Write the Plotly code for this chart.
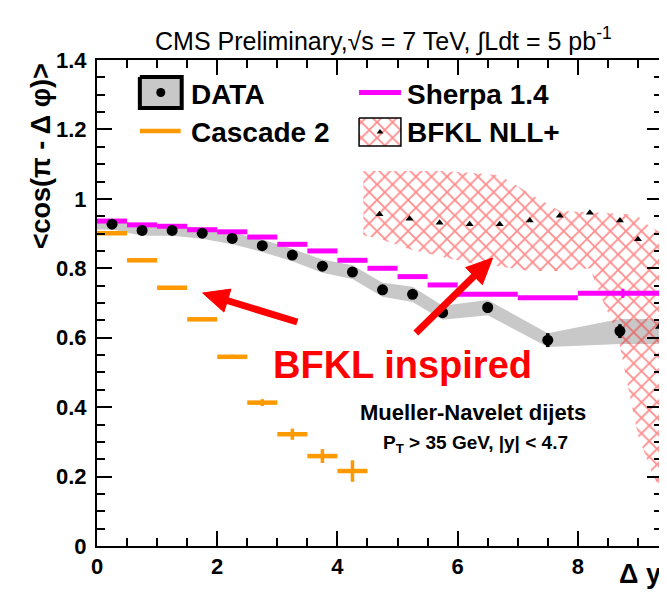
import math
import plotly.graph_objects as go

# ---------------- data ----------------
data_x = [0.25, 0.75, 1.25, 1.75, 2.25, 2.75, 3.25, 3.75, 4.25, 4.75, 5.25, 5.75, 6.5, 7.5, 8.7]
data_y = [0.927, 0.909, 0.909, 0.901, 0.886, 0.865, 0.838, 0.806, 0.789, 0.738, 0.725, 0.672, 0.687, 0.593, 0.619]
data_stat = [0.003, 0.003, 0.003, 0.003, 0.003, 0.003, 0.004, 0.004, 0.005, 0.005, 0.006, 0.008, 0.015, 0.02, 0.02]

syst_x = [0.0, 0.25, 0.75, 1.25, 1.75, 2.25, 2.75, 3.25, 3.75, 4.25, 4.75, 5.25, 5.75, 6.5, 7.5, 8.7, 9.4]
syst_hi = [0.942, 0.942, 0.924, 0.924, 0.917, 0.903, 0.883, 0.856, 0.825, 0.809, 0.758, 0.747, 0.692, 0.709, 0.613, 0.654, 0.654]
syst_lo = [0.912, 0.912, 0.894, 0.894, 0.885, 0.869, 0.847, 0.820, 0.787, 0.769, 0.718, 0.703, 0.652, 0.665, 0.573, 0.582, 0.582]

sherpa_lo = [0.0, 0.5, 1.0, 1.5, 2.0, 2.5, 3.0, 3.5, 4.0, 4.5, 5.0, 5.5, 6.0, 7.0, 8.0]
sherpa_hi = [0.5, 1.0, 1.5, 2.0, 2.5, 3.0, 3.5, 4.0, 4.5, 5.0, 5.5, 6.0, 7.0, 8.0, 9.5]
sherpa_y = [0.936, 0.925, 0.921, 0.911, 0.905, 0.890, 0.869, 0.850, 0.823, 0.800, 0.776, 0.752, 0.725, 0.715, 0.728]
sherpa_err = [0, 0, 0, 0, 0, 0, 0, 0, 0, 0, 0, 0, 0, 0, 0.013]

cascade_lo = [0.0, 0.5, 1.0, 1.5, 2.0, 2.5, 3.0, 3.5, 4.0]
cascade_hi = [0.5, 1.0, 1.5, 2.0, 2.5, 3.0, 3.5, 4.0, 4.5]
cascade_y = [0.901, 0.823, 0.744, 0.653, 0.545, 0.413, 0.322, 0.259, 0.216]
cascade_err = [0.002, 0.002, 0.003, 0.004, 0.006, 0.010, 0.016, 0.020, 0.031]

bfkl_x = [4.7, 5.2, 5.7, 6.2, 6.7, 7.2, 7.7, 8.2, 8.7, 9.0, 9.35]
bfkl_y = [0.956, 0.943, 0.931, 0.927, 0.927, 0.938, 0.951, 0.960, 0.938, 0.884, 0.631]
band_x = [4.43, 4.7, 5.2, 5.7, 6.2, 6.7, 7.2, 7.7, 8.2, 8.38, 8.66, 8.88, 9.0, 9.2, 9.4]
band_hi = [1.08, 1.08, 1.08, 1.08, 1.075, 1.068, 1.015, 0.965, 0.962, 0.96, 0.958, 0.955, 0.95, 0.92, 0.90]
band_lo = [0.895, 0.885, 0.855, 0.835, 0.815, 0.805, 0.792, 0.792, 0.80, 0.72, 0.61, 0.42, 0.32, 0.225, 0.15]

x_range = [0, 9.4]
y_range = [0, 1.4]

# ---------------- layout geometry (pixels) ----------------
W, H = 667, 594
PL, PR, PT, PB = 89, 656, 52, 538


def px(xp):
    return (xp - PL) / (PR - PL)


def py(yp):
    return (PB - yp) / (PB - PT)


FONT = "Liberation Sans, Arial, sans-serif"
GRAY = "#c8c8c8"
MAGENTA = "#ff00ff"
ORANGE = "#ff9900"
RED = "#ff0000"
HATCH = dict(shape="x", fgcolor="#ff1a1a", bgcolor="rgba(0,0,0,0)", size=11, solidity=0.3)

fig = go.Figure()

# systematic gray band
fig.add_trace(go.Scatter(
    x=syst_x + syst_x[::-1], y=syst_hi + syst_lo[::-1],
    fill="toself", fillcolor=GRAY, line=dict(width=0), mode="lines",
    hoverinfo="skip", showlegend=False))

# BFKL hatched band
fig.add_trace(go.Scatter(
    x=band_x + band_x[::-1], y=band_hi + band_lo[::-1],
    fill="toself", fillcolor="rgba(0,0,0,0)", fillpattern=HATCH,
    line=dict(width=0), mode="lines", hoverinfo="skip", showlegend=False))

# BFKL central triangles
fig.add_trace(go.Scatter(
    x=bfkl_x, y=bfkl_y, mode="markers",
    marker=dict(symbol="triangle-up", size=7, color="black"), showlegend=False))

# Sherpa
fig.add_trace(go.Scatter(
    x=[(a + b) / 2 for a, b in zip(sherpa_lo, sherpa_hi)], y=sherpa_y, mode="markers",
    marker=dict(size=1, color="rgba(0,0,0,0)"),
    error_x=dict(type="data", array=[(b - a) / 2 for a, b in zip(sherpa_lo, sherpa_hi)],
                 color=MAGENTA, thickness=5, width=0),
    error_y=dict(type="data", array=sherpa_err, color=MAGENTA, thickness=3, width=0),
    showlegend=False))

# Cascade
fig.add_trace(go.Scatter(
    x=[(a + b) / 2 for a, b in zip(cascade_lo, cascade_hi)], y=cascade_y, mode="markers",
    marker=dict(size=1, color="rgba(0,0,0,0)"),
    error_x=dict(type="data", array=[(b - a) / 2 for a, b in zip(cascade_lo, cascade_hi)],
                 color=ORANGE, thickness=4.5, width=0),
    error_y=dict(type="data", array=cascade_err, color=ORANGE, thickness=3.5, width=0),
    showlegend=False))

# DATA
fig.add_trace(go.Scatter(
    x=data_x, y=data_y, mode="markers",
    marker=dict(symbol="circle", size=11, color="black"),
    error_y=dict(type="data", array=data_stat, color="black", thickness=3.5, width=0),
    showlegend=False))

# ---------------- legend (pixel overlay axes) ----------------
leg = dict(xaxis="x2", yaxis="y2", showlegend=False, hoverinfo="skip")
fig.add_trace(go.Scatter(x=[132, 174, 174, 132, 132], y=[69, 69, 100, 100, 69], mode="lines",
                         fill="toself", fillcolor=GRAY, line=dict(color="black", width=4), **leg))
fig.add_trace(go.Scatter(x=[153], y=[84.5], mode="markers",
                         marker=dict(size=9, color="black"), **leg))
fig.add_trace(go.Scatter(x=[132, 173], y=[123, 123], mode="lines",
                         line=dict(color=ORANGE, width=4.5), **leg))
fig.add_trace(go.Scatter(x=[352, 394], y=[84.5, 84.5], mode="lines",
                         line=dict(color=MAGENTA, width=5), **leg))
fig.add_trace(go.Scatter(x=[352, 394, 394, 352, 352], y=[110, 110, 138, 138, 110], mode="lines",
                         fill="toself", fillcolor="rgba(0,0,0,0)", fillpattern=HATCH,
                         line=dict(color="black", width=1.5), **leg))
fig.add_trace(go.Scatter(x=[373], y=[124], mode="markers",
                         marker=dict(symbol="triangle-up", size=6, color="black"), **leg))

annotations = []


def txt(text, x, y, size, color="black", bold=True, xanchor="left", yanchor="middle", angle=0):
    annotations.append(dict(
        text=text, x=px(x), y=py(y), xref="paper", yref="paper", showarrow=False,
        xanchor=xanchor, yanchor=yanchor, textangle=angle,
        font=dict(family=FONT, size=size, color=color, weight="bold" if bold else "normal")))


txt("DATA", 181, 86, 28)
txt("Cascade 2", 181, 124, 28)
txt("Sherpa 1.4", 398, 86, 28)
txt("BFKL NLL+", 398, 124, 28)

txt("CMS Preliminary,\u221as = 7 TeV, \u222bLdt = 5 pb<sup>-1</sup>", 377, 32, 25,
    bold=False, xanchor="center")
txt("<cos(\u03c0 - \u0394 \u03c6)>", 33, 148, 27, xanchor="center", angle=-90)
txt("\u0394 y", 657, 566, 27, xanchor="right")

txt("BFKL inspired", 396, 357, 38, color=RED, xanchor="center")
txt("Mueller-Navelet dijets", 466, 404, 22, xanchor="center")
txt("P<sub>T</sub> > 35 GeV, |y| < 4.7", 469, 436, 19, xanchor="center")

# red arrows drawn as shapes in the pixel overlay axes
shapes = []


def arrow(tipx, tipy, tailx, taily, head_len=26, head_half=12, shaft=7):
    dx, dy = tipx - tailx, tipy - taily
    n = math.hypot(dx, dy)
    ux, uy = dx / n, dy / n
    bx, by = tipx - ux * head_len, tipy - uy * head_len
    nx, ny = -uy, ux
    shapes.append(dict(type="line", xref="x2", yref="y2", x0=tailx, y0=taily,
                       x1=bx + ux * 2, y1=by + uy * 2,
                       line=dict(color=RED, width=shaft)))
    path = "M {:.1f},{:.1f} L {:.1f},{:.1f} L {:.1f},{:.1f} Z".format(
        tipx, tipy, bx + nx * head_half, by + ny * head_half, bx - nx * head_half, by - ny * head_half)
    shapes.append(dict(type="path", xref="x2", yref="y2", path=path,
                       fillcolor=RED, line=dict(color=RED, width=1)))


arrow(195, 285, 290, 314)
arrow(486, 250, 409, 325)

tickfont = dict(family=FONT, size=22, color="black", weight="bold")

fig.update_layout(
    width=W, height=H,
    margin=dict(l=PL, r=W - PR, t=PT, b=H - PB, pad=0),
    paper_bgcolor="white", plot_bgcolor="white",
    annotations=annotations,
    shapes=shapes,
    xaxis=dict(range=x_range, dtick=2, tick0=0, ticks="inside", ticklen=15, tickwidth=1.5,
               tickcolor="black", showline=True, linecolor="black", linewidth=2,
               mirror="allticks", showgrid=False, zeroline=False, tickfont=tickfont,
               minor=dict(dtick=0.5, ticks="inside", ticklen=8, tickwidth=1.5, tickcolor="black",
                          showgrid=False)),
    yaxis=dict(range=y_range, dtick=0.2, tick0=0, ticks="inside", ticklen=15, tickwidth=1.5,
               tickcolor="black", showline=True, linecolor="black", linewidth=2,
               mirror="allticks", showgrid=False, zeroline=False, tickfont=tickfont,
               ticklabelstandoff=4,
               minor=dict(dtick=0.05, ticks="inside", ticklen=8, tickwidth=1.5, tickcolor="black",
                          showgrid=False)),
    xaxis2=dict(range=[PL, PR], overlaying="x", visible=False, fixedrange=True),
    yaxis2=dict(range=[PB, PT], overlaying="y", visible=False, fixedrange=True),
)

fig.write_html("out.html")
